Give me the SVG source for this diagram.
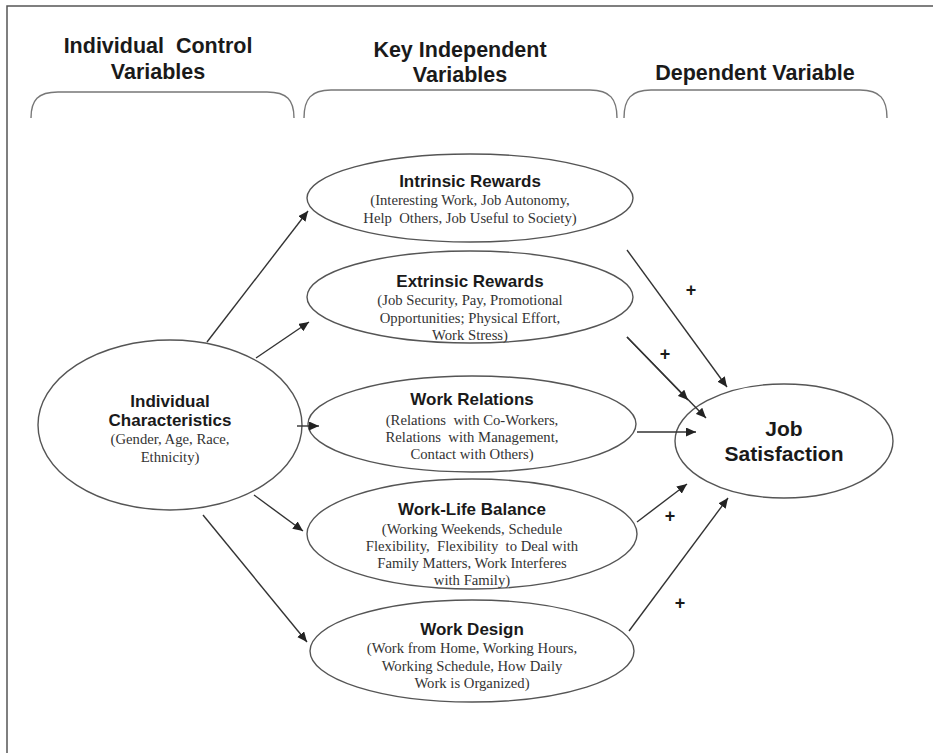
<svg xmlns="http://www.w3.org/2000/svg" width="933" height="753" viewBox="0 0 933 753">
  <defs>
    <marker id="arrow" markerUnits="userSpaceOnUse" markerWidth="11" markerHeight="9" refX="10" refY="4.5" orient="auto">
      <path d="M0,0 L10,4.5 L0,9 z" fill="#222"/>
    </marker>
    <style>
      text { white-space: pre; }
      .frame { fill: none; stroke: #555; stroke-width: 1.5; }
      .bracket { fill: none; stroke: #777; stroke-width: 1.4; }
      .node { fill: #fff; stroke: #555; stroke-width: 1.4; }
      .head { font-family: "Liberation Sans", Arial, sans-serif; font-weight: bold; font-size: 21.5px; fill: #1a1a1a; text-anchor: middle; }
      .title { font-family: "Liberation Sans", Arial, sans-serif; font-weight: bold; font-size: 17px; fill: #1a1a1a; text-anchor: middle; }
      .big { font-family: "Liberation Sans", Arial, sans-serif; font-weight: bold; font-size: 21px; fill: #1a1a1a; text-anchor: middle; }
      .sub { font-family: "Liberation Serif", "Times New Roman", serif; font-size: 14.7px; fill: #333; text-anchor: middle; }
      .plus { font-family: "Liberation Sans", Arial, sans-serif; font-weight: bold; font-size: 18px; fill: #1a1a1a; text-anchor: middle; }
      .edge { fill: none; stroke: #333; stroke-width: 1.4; marker-end: url(#arrow); }
    </style>
  </defs>
  <rect width="933" height="753" fill="#fff"/>
  <path class="frame" d="M7,753 V6 H933"/>

  <!-- column headings -->
  <g id="headings">
    <text class="head" x="158" y="53">Individual  Control</text>
    <text class="head" x="158" y="79">Variables</text>
    <text class="head" x="460" y="57">Key Independent</text>
    <text class="head" x="460" y="82">Variables</text>
    <text class="head" x="755" y="80">Dependent Variable</text>
    <path class="bracket" d="M31,118 C31,100 38,92 58,92 H267 C287,92 294,100 294,118"/>
    <path class="bracket" d="M304,118 C304,99 311,90 331,90 H590 C610,90 617,99 617,118"/>
    <path class="bracket" d="M624,118 C624,99 631,90 651,90 H860 C880,90 887,99 887,118"/>
  </g>

  <g id="individual-characteristics">
    <ellipse class="node" cx="170" cy="425" rx="132" ry="85"/>
    <text class="title" x="170" y="407">Individual</text>
    <text class="title" x="170" y="426">Characteristics</text>
    <text class="sub" x="170" y="444">(Gender, Age, Race,</text>
    <text class="sub" x="170" y="462">Ethnicity)</text>
  </g>

  <g id="intrinsic-rewards">
    <ellipse class="node" cx="470" cy="198" rx="163" ry="44"/>
    <text class="title" x="470" y="187">Intrinsic Rewards</text>
    <text class="sub" x="470" y="205">(Interesting Work, Job Autonomy,</text>
    <text class="sub" x="470" y="223">Help  Others, Job Useful to Society)</text>
  </g>

  <g id="extrinsic-rewards">
    <ellipse class="node" cx="470" cy="297" rx="163" ry="46"/>
    <text class="title" x="470" y="287">Extrinsic Rewards</text>
    <text class="sub" x="470" y="305">(Job Security, Pay, Promotional</text>
    <text class="sub" x="470" y="323">Opportunities; Physical Effort,</text>
    <text class="sub" x="470" y="340">Work Stress)</text>
  </g>

  <g id="work-relations">
    <ellipse class="node" cx="472" cy="424" rx="164" ry="48"/>
    <text class="title" x="472" y="405">Work Relations</text>
    <text class="sub" x="472" y="425">(Relations  with Co-Workers,</text>
    <text class="sub" x="472" y="442">Relations  with Management,</text>
    <text class="sub" x="472" y="459">Contact with Others)</text>
  </g>

  <g id="work-life-balance">
    <ellipse class="node" cx="472" cy="534" rx="165" ry="55"/>
    <text class="title" x="472" y="515">Work-Life Balance</text>
    <text class="sub" x="472" y="534">(Working Weekends, Schedule</text>
    <text class="sub" x="472" y="551">Flexibility,  Flexibility  to Deal with</text>
    <text class="sub" x="472" y="568">Family Matters, Work Interferes</text>
    <text class="sub" x="472" y="585">with Family)</text>
  </g>

  <g id="work-design">
    <ellipse class="node" cx="472" cy="651" rx="162" ry="51"/>
    <text class="title" x="472" y="635">Work Design</text>
    <text class="sub" x="472" y="653">(Work from Home, Working Hours,</text>
    <text class="sub" x="472" y="671">Working Schedule, How Daily</text>
    <text class="sub" x="472" y="688">Work is Organized)</text>
  </g>

  <g id="job-satisfaction">
    <ellipse class="node" cx="784" cy="441" rx="109" ry="57"/>
    <text class="big" x="784" y="436">Job</text>
    <text class="big" x="784" y="461">Satisfaction</text>
  </g>

  <!-- connectors, drawn over the ellipses so tips that reach inside stay visible -->
  <g id="connectors">
    <line class="edge" x1="207" y1="342" x2="308" y2="211"/>
    <line class="edge" x1="256" y1="358" x2="309" y2="322"/>
    <line class="edge" x1="297" y1="426" x2="319" y2="426"/>
    <line class="edge" x1="254" y1="495" x2="303" y2="531"/>
    <line class="edge" x1="203" y1="515" x2="307" y2="642"/>
    <line class="edge" x1="627" y1="250" x2="727" y2="387"/>
    <line class="edge" x1="627" y1="337" x2="706" y2="418"/>
    <line class="edge" x1="627" y1="337" x2="688" y2="400"/>
    <line class="edge" x1="637" y1="432" x2="696" y2="432"/>
    <line class="edge" x1="637" y1="522" x2="687" y2="484"/>
    <line class="edge" x1="629" y1="631" x2="728" y2="498"/>
    <text class="plus" x="691" y="296">+</text>
    <text class="plus" x="665" y="360">+</text>
    <text class="plus" x="670" y="522">+</text>
    <text class="plus" x="680" y="609">+</text>
  </g>
</svg>
